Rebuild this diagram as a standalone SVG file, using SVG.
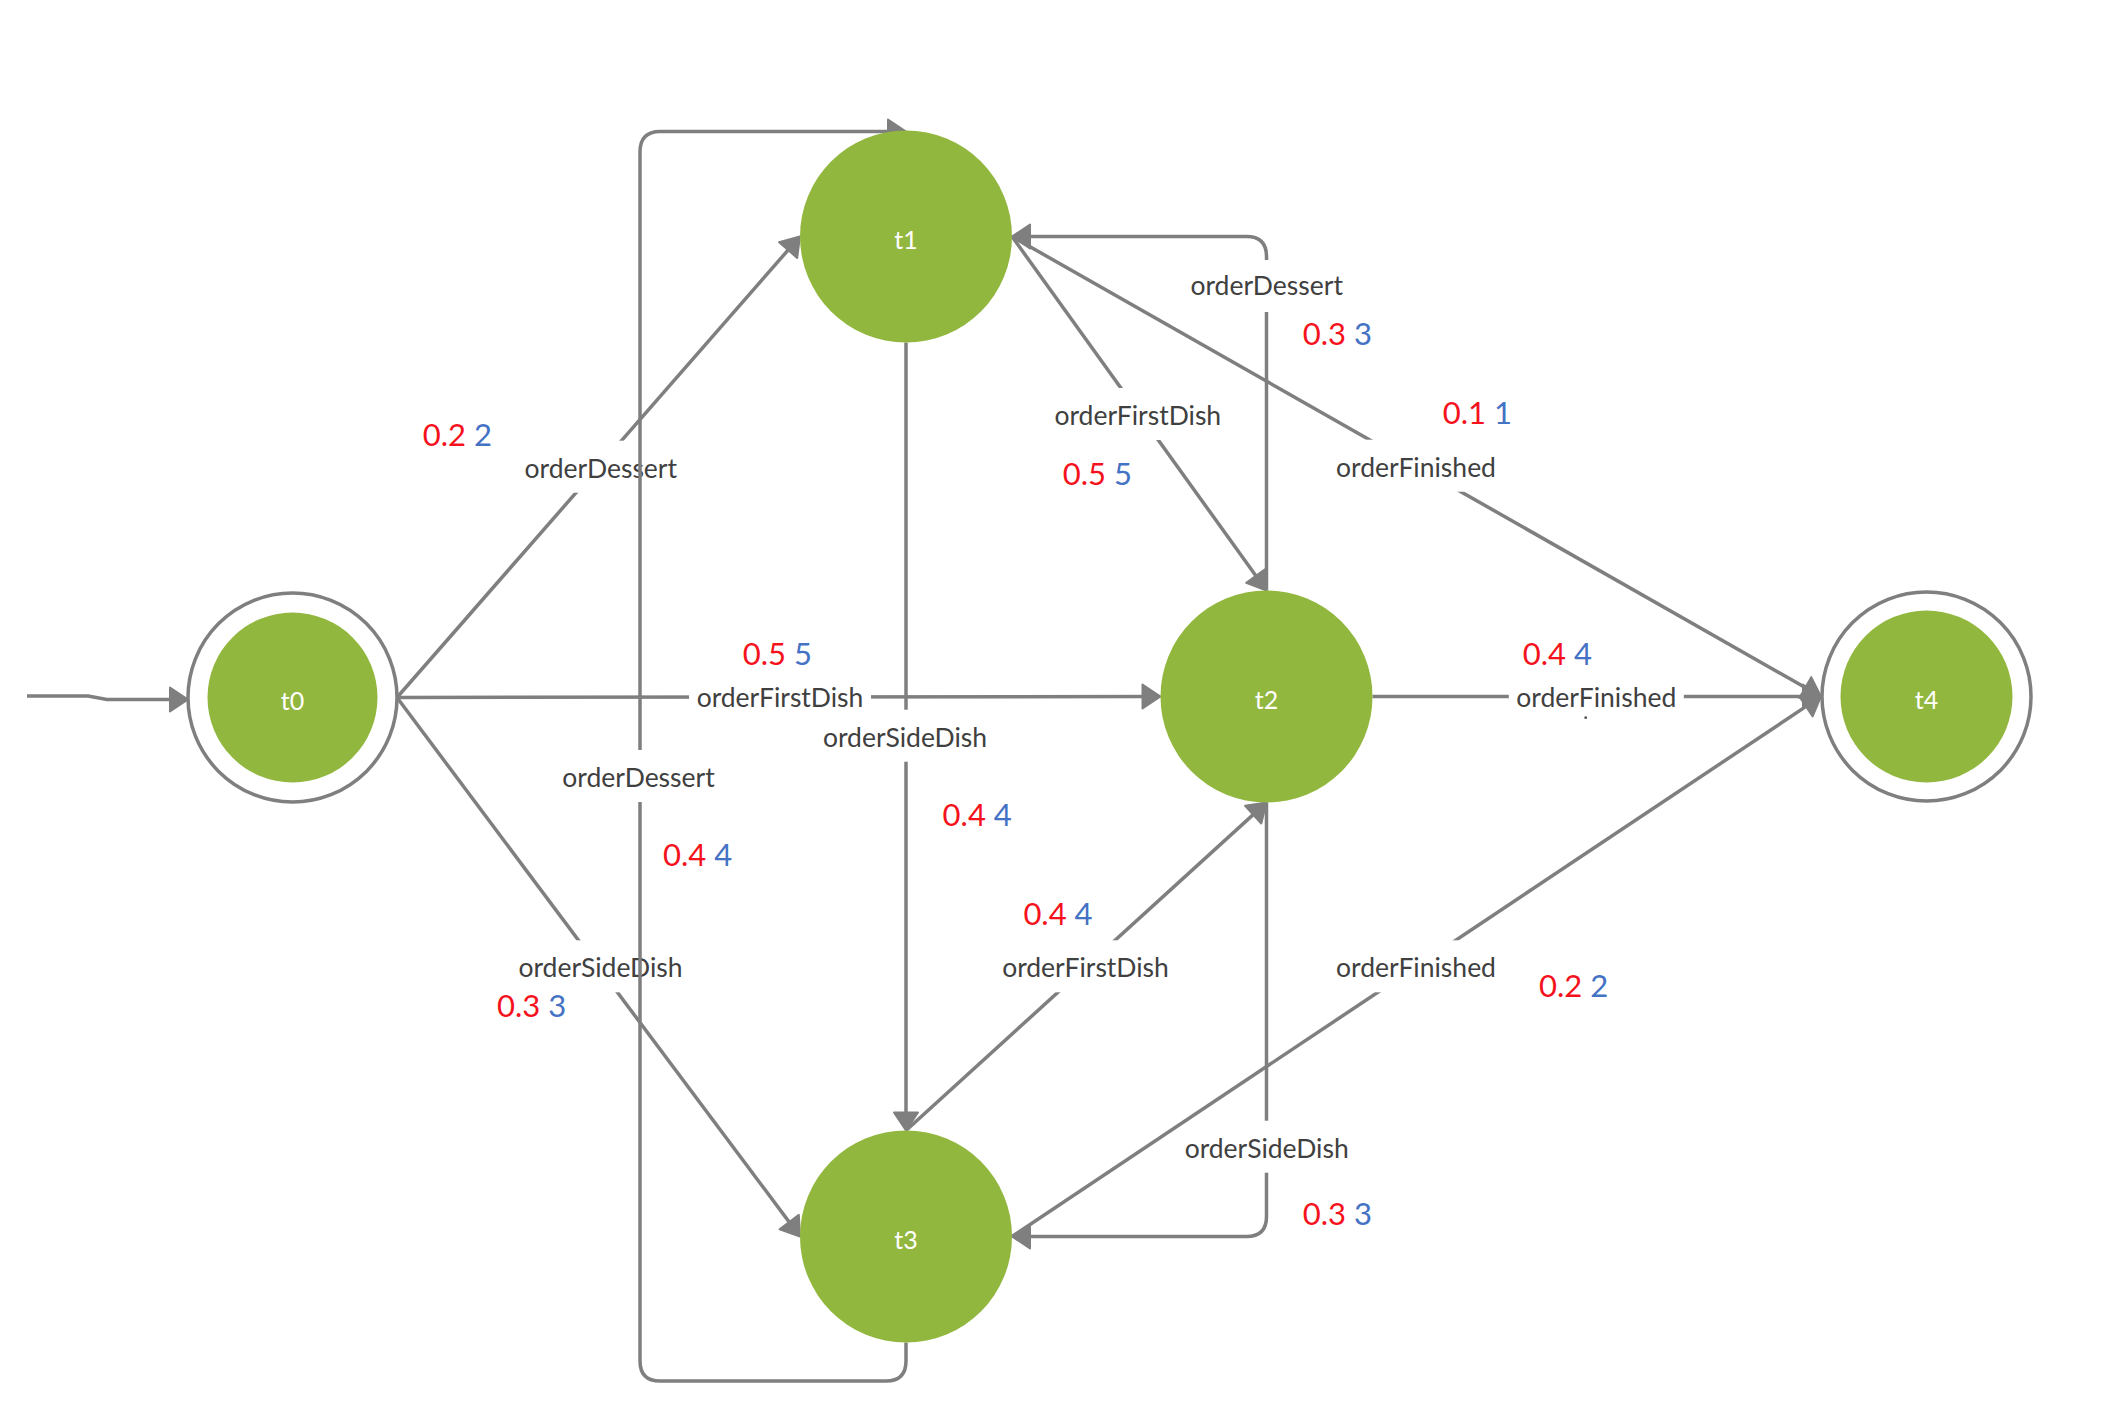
<svg xmlns="http://www.w3.org/2000/svg" width="2119" height="1414" viewBox="0 0 2119 1414">
  <style>
    .edge { fill: none; stroke: #7f7f7f; stroke-width: 3.5; stroke-linejoin: round; }
    .node { fill: #92b73e; }
    .ring { fill: none; stroke: #7f7f7f; stroke-width: 3.5; }
    .nlabel { font-family: Lato, "Liberation Sans", sans-serif; font-size: 25px; fill: #ffffff; text-anchor: middle; }
    .elabel { font-family: Lato, "Liberation Sans", sans-serif; font-size: 26.5px; fill: #404040; text-anchor: middle; }
    .lbg { fill: #ffffff; }
    .num { font-family: Lato, "Liberation Sans", sans-serif; font-size: 31px; }
    .p { fill: #f5121c; }
    .c { fill: #4472c4; }
  </style>
  <defs>
    <marker id="arrow" markerUnits="userSpaceOnUse" markerWidth="40" markerHeight="40" refX="11" refY="13" orient="auto" overflow="visible">
      <path d="M1,1 L19,13 L1,25 Z" fill="#7f7f7f" stroke="#7f7f7f" stroke-width="2" stroke-linejoin="round"/>
    </marker>
  </defs>

  <rect width="2119" height="1414" fill="#ffffff"/>

  <!-- transitions -->
  <g id="connectors">
    <!-- start arrow into t0 -->
    <path class="edge" d="M27,696 L88,696 L107,699.5 L180,699.5" marker-end="url(#arrow)"/>

    <!-- t0 -> t1 -->
    <g id="e-t0-t1">
      <path class="edge" d="M397,697.5 L794.7,242.5" marker-end="url(#arrow)"/>
      <rect class="lbg" x="516.8" y="440.7" width="168" height="52"/>
      <text class="elabel" x="600.8" y="477.7">orderDessert</text>
      <text class="num" x="422.7" y="445.7"><tspan class="p">0.2</tspan><tspan class="c"> 2</tspan></text>
    </g>

    <!-- t0 -> t3 -->
    <g id="e-t0-t3">
      <path class="edge" d="M397,697.5 L795.2,1230.1" marker-end="url(#arrow)"/>
      <rect class="lbg" x="511" y="940.3" width="179" height="52"/>
      <text class="elabel" x="600.5" y="977.3">orderSideDish</text>
      <text class="num" x="497" y="1016.7"><tspan class="p">0.3</tspan><tspan class="c"> 3</tspan></text>
    </g>

    <!-- t0 -> t2 -->
    <g id="e-t0-t2">
      <path class="edge" d="M397,697.5 L1152.5,696.5" marker-end="url(#arrow)"/>
      <rect class="lbg" x="689" y="670.3" width="182" height="52"/>
      <text class="elabel" x="780" y="707.3">orderFirstDish</text>
      <text class="num" x="742.8" y="665"><tspan class="p">0.5</tspan><tspan class="c"> 5</tspan></text>
    </g>

    <!-- t3 -> t1 (loop round the left side) -->
    <g id="e-t3-t1">
      <path class="edge" d="M906,1342.5 V1361 Q906,1381 886,1381 H660 Q640,1381 640,1361 V152 Q640,131.5 660,131.5 H898" marker-end="url(#arrow)"/>
      <rect class="lbg" x="554.5" y="750" width="168" height="52"/>
      <text class="elabel" x="638.5" y="787">orderDessert</text>
      <text class="num" x="663" y="866"><tspan class="p">0.4</tspan><tspan class="c"> 4</tspan></text>
    </g>

    <!-- t1 -> t3 -->
    <g id="e-t1-t3">
      <path class="edge" d="M906,342.5 V1122.5" marker-end="url(#arrow)"/>
      <rect class="lbg" x="815.5" y="709.7" width="179" height="52"/>
      <text class="elabel" x="905" y="746.7">orderSideDish</text>
      <text class="num" x="942.6" y="826"><tspan class="p">0.4</tspan><tspan class="c"> 4</tspan></text>
    </g>

    <!-- t1 -> t2 -->
    <g id="e-t1-t2">
      <path class="edge" d="M1012,236.5 L1261.8,584" marker-end="url(#arrow)"/>
      <rect class="lbg" x="1046.8" y="388" width="182" height="52"/>
      <text class="elabel" x="1137.8" y="425">orderFirstDish</text>
      <text class="num" x="1062.7" y="485"><tspan class="p">0.5</tspan><tspan class="c"> 5</tspan></text>
    </g>

    <!-- t2 -> t1 -->
    <g id="e-t2-t1">
      <path class="edge" d="M1266.5,590.5 V256.5 Q1266.5,236.5 1246.5,236.5 H1020" marker-end="url(#arrow)"/>
      <rect class="lbg" x="1182.7" y="260" width="168" height="52"/>
      <text class="elabel" x="1266.7" y="295">orderDessert</text>
      <text class="num" x="1302.7" y="345"><tspan class="p">0.3</tspan><tspan class="c"> 3</tspan></text>
    </g>

    <!-- t1 -> t4 -->
    <g id="e-t1-t4">
      <path class="edge" d="M1012,236.5 L1814,692.5" marker-end="url(#arrow)"/>
      <rect class="lbg" x="1328.5" y="439.7" width="175" height="52"/>
      <text class="elabel" x="1416" y="476.7">orderFinished</text>
      <text class="num" x="1442.7" y="424"><tspan class="p">0.1</tspan><tspan class="c"> 1</tspan></text>
    </g>

    <!-- t2 -> t4 -->
    <g id="e-t2-t4">
      <path class="edge" d="M1372.5,696.5 H1813" marker-end="url(#arrow)"/>
      <rect class="lbg" x="1508.8" y="670.3" width="175" height="52"/>
      <text class="elabel" x="1596.3" y="707.3">orderFinished</text>
      <circle cx="1585.7" cy="717.7" r="1.4" fill="#555555"/>
      <text class="num" x="1522.7" y="665"><tspan class="p">0.4</tspan><tspan class="c"> 4</tspan></text>
    </g>

    <!-- t3 -> t2 -->
    <g id="e-t3-t2">
      <path class="edge" d="M906,1130.5 L1260.6,807.9" marker-end="url(#arrow)"/>
      <rect class="lbg" x="994.5" y="940.3" width="182" height="52"/>
      <text class="elabel" x="1085.5" y="977.3">orderFirstDish</text>
      <text class="num" x="1023.4" y="925"><tspan class="p">0.4</tspan><tspan class="c"> 4</tspan></text>
    </g>

    <!-- t2 -> t3 -->
    <g id="e-t2-t3">
      <path class="edge" d="M1266.5,802.5 V1216.5 Q1266.5,1236.5 1246.5,1236.5 H1020" marker-end="url(#arrow)"/>
      <rect class="lbg" x="1177.2" y="1120.7" width="179" height="52"/>
      <text class="elabel" x="1266.7" y="1157.7">orderSideDish</text>
      <text class="num" x="1302.7" y="1225"><tspan class="p">0.3</tspan><tspan class="c"> 3</tspan></text>
    </g>

    <!-- t3 -> t4 -->
    <g id="e-t3-t4">
      <path class="edge" d="M1012,1236.5 L1814.3,700.9" marker-end="url(#arrow)"/>
      <rect class="lbg" x="1328.5" y="940.3" width="175" height="52"/>
      <text class="elabel" x="1416" y="977.3">orderFinished</text>
      <text class="num" x="1539" y="996.7"><tspan class="p">0.2</tspan><tspan class="c"> 2</tspan></text>
    </g>
  </g>

  <!-- states -->
  <g id="t0">
    <circle class="ring" cx="292.5" cy="697.5" r="104.5"/>
    <circle class="node" cx="292.5" cy="697.5" r="85"/>
    <text class="nlabel" x="292.5" y="710">t0</text>
  </g>
  <g id="t1">
    <circle class="node" cx="906" cy="236.5" r="106"/>
    <text class="nlabel" x="906" y="248.5">t1</text>
  </g>
  <g id="t2">
    <circle class="node" cx="1266.5" cy="696.5" r="106"/>
    <text class="nlabel" x="1266.5" y="708.5">t2</text>
  </g>
  <g id="t3">
    <circle class="node" cx="906" cy="1236.5" r="106"/>
    <text class="nlabel" x="906" y="1248.5">t3</text>
  </g>
  <g id="t4">
    <circle class="ring" cx="1926.5" cy="696.5" r="104.5"/>
    <circle class="node" cx="1926.5" cy="696.5" r="86"/>
    <text class="nlabel" x="1926.5" y="708.5">t4</text>
  </g>
</svg>
